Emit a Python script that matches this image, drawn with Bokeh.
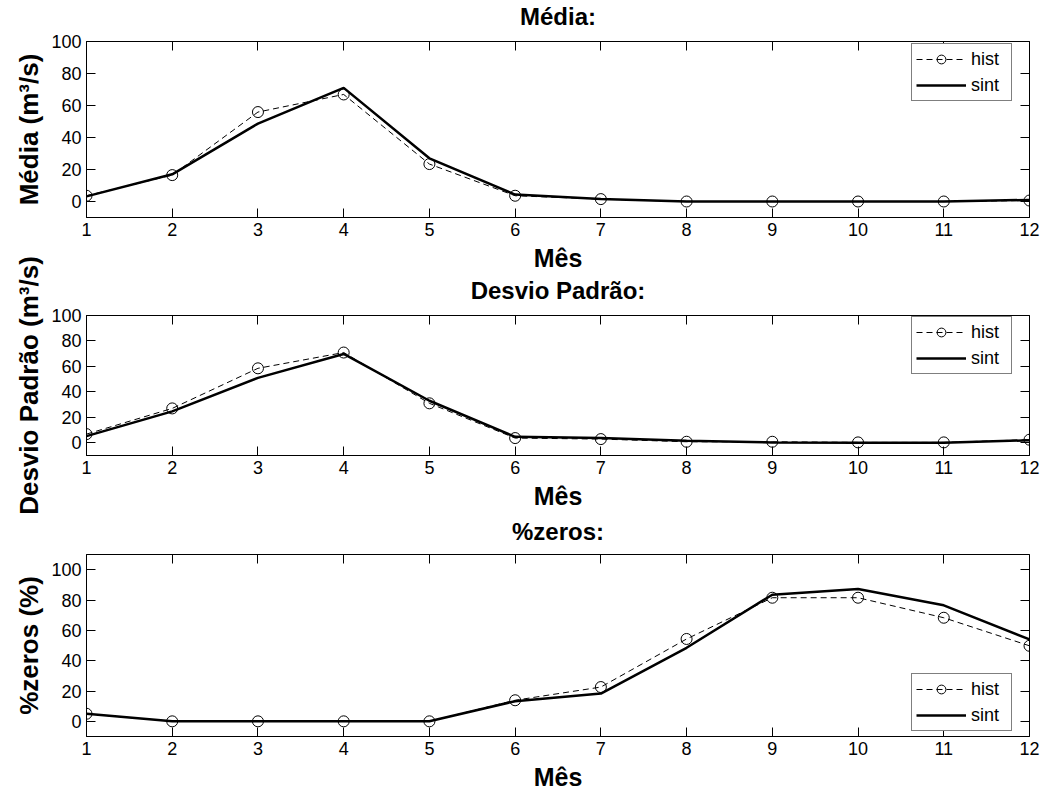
from bokeh.plotting import figure
from bokeh.models import (Range1d, LinearAxis, FixedTicker, Legend, LegendItem,
                          CustomLabelingPolicy)
from bokeh.layouts import column
from bokeh.embed import file_html
from bokeh.resources import INLINE

# ---- data ----
months = [1, 2, 3, 4, 5, 6, 7, 8, 9, 10, 11, 12]
media_hist = [3.6, 16.5, 55.9, 66.9, 23.4, 3.6, 1.5, 0.0, 0.0, 0.0, 0.0, 0.6]
media_sint = [3.2, 17.0, 48.7, 71.0, 27.0, 4.3, 1.5, 0.0, 0.0, 0.0, 0.0, 1.0]
desvio_hist = [6.8, 27.0, 58.5, 70.9, 31.0, 3.7, 2.9, 0.8, 0.8, 0.3, 0.3, 2.4]
desvio_sint = [5.2, 24.7, 51.0, 69.8, 33.0, 4.7, 3.7, 1.6, 0.3, 0.0, 0.0, 2.0]
zeros_hist = [5.0, 0.0, 0.0, 0.0, 0.0, 13.9, 22.6, 54.3, 81.5, 81.5, 68.3, 49.8]
zeros_sint = [5.0, 0.0, 0.0, 0.0, 0.0, 13.3, 18.3, 48.5, 83.5, 87.2, 76.5, 54.0]
y_ticks = [0, 20, 40, 60, 80, 100]
series_labels = ["hist", "sint"]
x_label = "Mês"

FONT = "Liberation Sans"
W = 1047


def style_axis(ax, show_labels=True):
    ax.axis_line_color = "black"
    ax.axis_line_width = 1
    ax.major_tick_in = 9
    ax.major_tick_out = 0
    ax.major_tick_line_color = "black"
    ax.major_tick_line_width = 1
    ax.minor_tick_in = 0
    ax.minor_tick_out = 0
    ax.major_label_text_font = FONT
    ax.major_label_text_color = "black"
    ax.axis_label_text_font = FONT
    ax.axis_label_text_font_style = "bold"
    ax.axis_label_text_color = "black"
    if show_labels:
        ax.major_label_text_font_size = "18px"
        ax.major_label_standoff = 5
    else:
        ax.major_label_text_font_size = "1px"
        ax.major_label_standoff = 0
        ax.major_label_policy = CustomLabelingPolicy(
            code="for (const i of indices) indices.unset(i)")
        ax.axis_line_color = None


def make_panel(title, ylabel, hist, sint, ymin, ymax, height, btop, bbot, mtop,
               legend_y, title_standoff):
    p = figure(width=W, height=height, x_range=Range1d(1, 12),
               y_range=Range1d(ymin, ymax), output_backend="svg",
               toolbar_location=None, min_border_left=86, min_border_right=18,
               min_border_top=btop, min_border_bottom=bbot, title=title)
    p.margin = (mtop, 0, 0, 0)
    p.border_fill_color = None
    p.background_fill_color = "white"
    p.outline_line_color = "black"
    p.outline_line_width = 1
    p.outline_line_alpha = 1
    p.grid.visible = False

    p.title.text_font = FONT
    p.title.text_font_size = "24px"
    p.title.text_font_style = "bold"
    p.title.text_color = "black"
    p.title.align = "center"
    p.title.standoff = title_standoff

    p.xaxis.ticker = FixedTicker(ticks=months)
    p.yaxis.ticker = FixedTicker(ticks=y_ticks)
    p.xaxis.axis_label = x_label
    p.yaxis.axis_label = ylabel
    for ax in p.xaxis:
        style_axis(ax)
        ax.axis_label_text_font_size = "25px"
        ax.axis_label_standoff = 5
    for ax in p.yaxis:
        style_axis(ax)
        ax.axis_label_text_font_size = "26px"
        ax.axis_label_standoff = 4

    top = LinearAxis(ticker=FixedTicker(ticks=months))
    style_axis(top, show_labels=False)
    p.add_layout(top, "above")
    right = LinearAxis(ticker=FixedTicker(ticks=y_ticks))
    style_axis(right, show_labels=False)
    p.add_layout(right, "right")

    l_hist = p.line(months, hist, line_color="black", line_width=1,
                    line_dash="6 4")
    s_hist = p.scatter(months, hist, marker="circle", size=11,
                       fill_color=None, line_color="black", line_width=1)
    l_sint = p.line(months, sint, line_color="black", line_width=2.5)

    legend = Legend(items=[LegendItem(label=series_labels[0], renderers=[l_hist, s_hist]),
                           LegendItem(label=series_labels[1], renderers=[l_sint])],
                    location=(825, legend_y))
    legend.margin = 0
    legend.padding = 4
    legend.spacing = 4
    legend.glyph_width = 50
    legend.glyph_height = 22
    legend.label_height = 22
    legend.label_width = 36
    legend.label_standoff = 5
    legend.label_text_font = FONT
    legend.label_text_font_size = "18px"
    legend.label_text_color = "black"
    legend.border_line_color = "black"
    legend.border_line_width = 1
    legend.background_fill_color = "white"
    legend.background_fill_alpha = 1
    p.add_layout(legend)
    return p


p1 = make_panel("Média:", "Média (m³/s)", media_hist, media_sint,
                -10, 100, 288, 51, 61, -10, 116, 16)
p2 = make_panel("Desvio Padrão:", "Desvio Padrão (m³/s)", desvio_hist, desvio_sint,
                -10, 100, 265, 65, 60, -28, 81, 15)
p3 = make_panel("%zeros:", "%zeros (%)", zeros_hist, zeros_sint,
                -10, 110, 288, 49, 55, -10, 5, 12)

layout = column(p1, p2, p3)
open("out.html", "w").write(file_html(layout, INLINE))
